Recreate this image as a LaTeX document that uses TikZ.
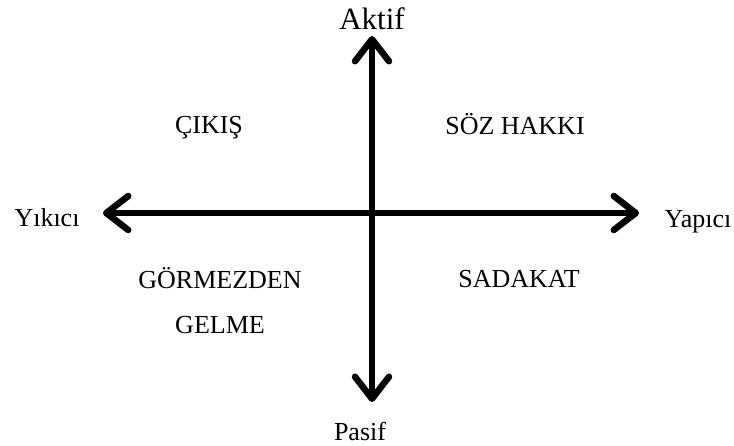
\documentclass[tikz,border=0pt]{standalone}
\usepackage{fontspec}
\setmainfont{Liberation Serif}
\usetikzlibrary{arrows.meta}
\begin{document}
\begin{tikzpicture}[x=1pt,y=-1pt,
  axis/.style={line width=6.5pt,{Straight Barb[round,length=22pt,width=34pt]}-{Straight Barb[round,length=22pt,width=34pt]}},
  lbl/.style={font=\fontsize{26}{31}\selectfont,inner sep=0pt,anchor=base},
  big/.style={font=\fontsize{31}{36}\selectfont,inner sep=0pt,anchor=base}]
\useasboundingbox (0,0) rectangle (734,445);
\coordinate (top) at (372,36);
\coordinate (bot) at (372,402);
\coordinate (lft) at (103,213);
\coordinate (rgt) at (639,213);
\draw[axis] (bot) -- (top);
\draw[axis] (lft) -- (rgt);
\node[big] (aktif) at (372,29) {Aktif};
\node[lbl] (pasif) at (360,440) {Pasif};
\node[lbl] (yikici) at (47,226) {Yıkıcı};
\node[lbl] (yapici) at (698,227) {Yapıcı};
\node[lbl] (cikis) at (209,133) {ÇIKIŞ};
\node[lbl] (soz) at (515,134) {SÖZ HAKKI};
\node[lbl] (gorm) at (220,288) {GÖRMEZDEN};
\node[lbl] (gelme) at (220,333) {GELME};
\node[lbl] (sadakat) at (519,287) {SADAKAT};
\end{tikzpicture}
\end{document}
